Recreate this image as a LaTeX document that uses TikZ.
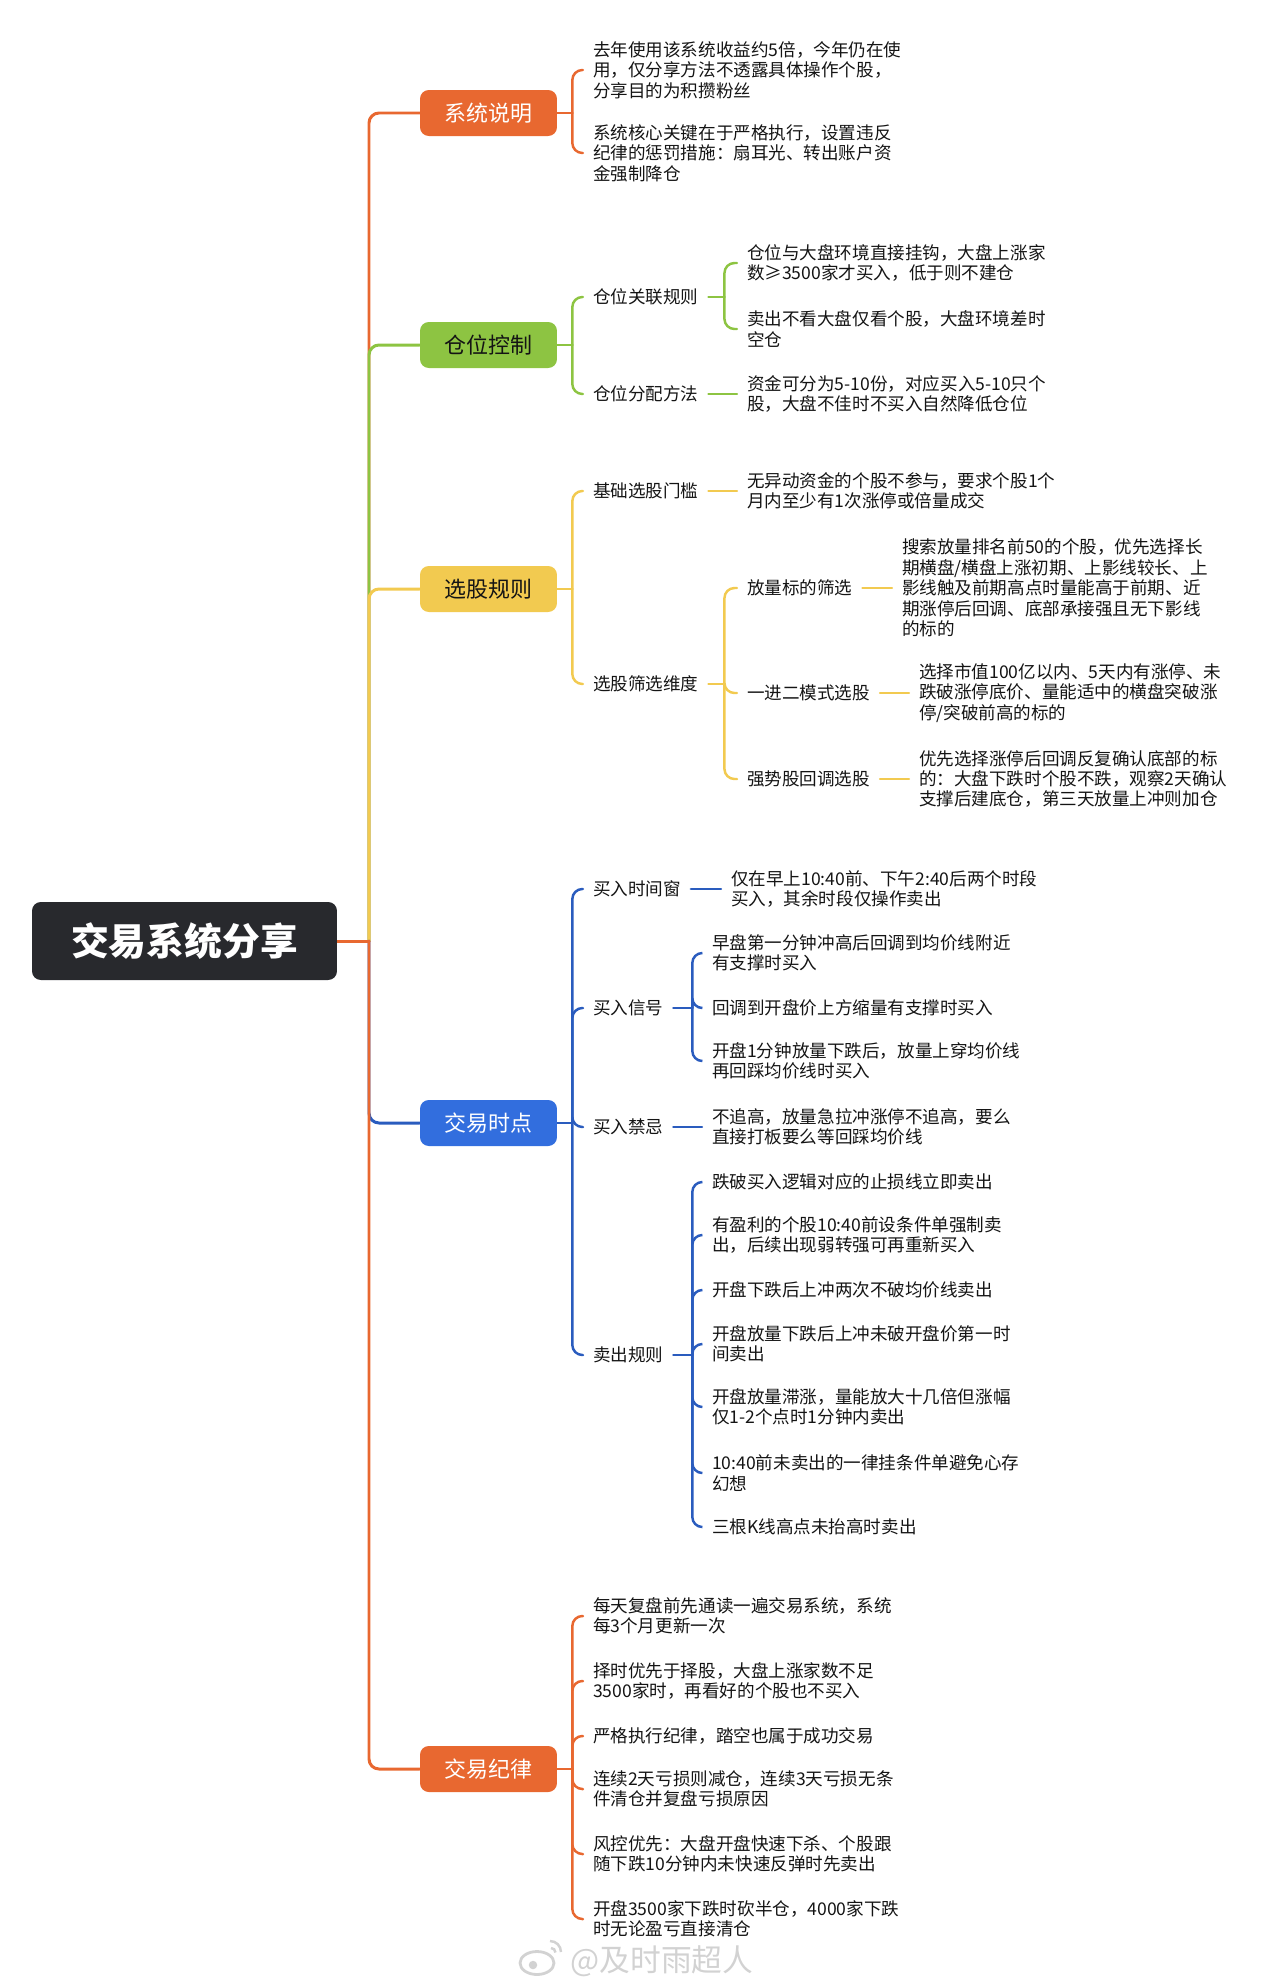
\documentclass[tikz,border=0pt]{standalone}
\usepackage{fontspec}
\setmainfont{Noto Sans CJK SC}
\usepackage{tikz}
\usetikzlibrary{positioning, calc, backgrounds}
\definecolor{rootdark}{RGB}{40,41,45}
\definecolor{orangecol}{RGB}{232,104,48}
\definecolor{greencol}{RGB}{141,196,66}
\definecolor{yellowcol}{RGB}{242,202,80}
\definecolor{bluecol}{RGB}{50,110,222}
\definecolor{bluelinecol}{RGB}{42,92,190}
\definecolor{textdark}{RGB}{20,20,20}
\tikzset{
  rootnode/.style={rectangle,rounded corners=5pt,fill=rootdark,text=white,minimum width=6.1cm,minimum height=1.56cm,inner sep=0pt,font=\fontsize{21.5}{24}\selectfont\bfseries},
  topicnode/.style={rectangle,rounded corners=5pt,minimum width=2.74cm,minimum height=0.92cm,inner sep=0pt,font=\fontsize{12.5}{14}\selectfont},
  labelnode/.style={inner sep=0pt,outer xsep=5.7pt,anchor=west,text=textdark,font=\fontsize{10}{11.6}\selectfont},
  leafnode/.style={labelnode,align=left},
  trunkline/.style={line width=1.7pt,rounded corners=0.2cm,line cap=round},
  brline/.style={line width=1.4pt,rounded corners=0.2cm,line cap=round}
}
\begin{document}
\begin{tikzpicture}[x=0.02cm,y=-0.02cm]
  \useasboundingbox (0,0) rectangle (1280,1982);

  %% Root
  \node[rootnode] (root) at (184.5,941) {交易系统分享};
  \coordinate (trunk) at (369,941);

  %% Main topics
  \node[topicnode,fill=orangecol,text=white] (xtsm) at (488.5,113) {系统说明};
  \node[topicnode,fill=greencol,text=textdark] (cwkz) at (488.5,345) {仓位控制};
  \node[topicnode,fill=yellowcol,text=textdark] (xggz) at (488.5,589) {选股规则};
  \node[topicnode,fill=bluecol,text=white] (jysd) at (488.5,1123) {交易时点};
  \node[topicnode,fill=orangecol,text=white] (jyjl) at (488.5,1769) {交易纪律};

  %% 系统说明
  \node[leafnode] (xtsm1) at (583,70) {去年使用该系统收益约5倍，今年仍在使\\用，仅分享方法不透露具体操作个股，\\分享目的为积攒粉丝};
  \node[leafnode] (xtsm2) at (583,153) {系统核心关键在于严格执行，设置违反\\纪律的惩罚措施：扇耳光、转出账户资\\金强制降仓};

  %% 仓位控制
  \node[labelnode] (glgz) at (583,297) {仓位关联规则};
  \node[labelnode] (fpff) at (583,394) {仓位分配方法};
  \node[leafnode] (glgz1) at (737,263) {仓位与大盘环境直接挂钩，大盘上涨家\\数≥3500家才买入，低于则不建仓};
  \node[leafnode] (glgz2) at (737,329) {卖出不看大盘仅看个股，大盘环境差时\\空仓};
  \node[leafnode] (fpff1) at (737,394) {资金可分为5-10份，对应买入5-10只个\\股，大盘不佳时不买入自然降低仓位};

  %% 选股规则
  \node[labelnode] (jcmk) at (583,491) {基础选股门槛};
  \node[labelnode] (sxwd) at (583,684) {选股筛选维度};
  \node[leafnode] (jcmk1) at (737,491) {无异动资金的个股不参与，要求个股1个\\月内至少有1次涨停或倍量成交};
  \node[labelnode] (flsx) at (737,588) {放量标的筛选};
  \node[labelnode] (yjem) at (737,693) {一进二模式选股};
  \node[labelnode] (qshd) at (737,779) {强势股回调选股};
  \node[leafnode] (flsx1) at (892,588) {搜索放量排名前50的个股，优先选择长\\期横盘/横盘上涨初期、上影线较长、上\\影线触及前期高点时量能高于前期、近\\期涨停后回调、底部承接强且无下影线\\的标的};
  \node[leafnode] (yjem1) at (909,693) {选择市值100亿以内、5天内有涨停、未\\跌破涨停底价、量能适中的横盘突破涨\\停/突破前高的标的};
  \node[leafnode] (qshd1) at (909,779) {优先选择涨停后回调反复确认底部的标\\的：大盘下跌时个股不跌，观察2天确认\\支撑后建底仓，第三天放量上冲则加仓};

  %% 交易时点
  \node[labelnode] (mrsj) at (583,889) {买入时间窗};
  \node[labelnode] (mrxh) at (583,1008) {买入信号};
  \node[labelnode] (mrjj) at (583,1127) {买入禁忌};
  \node[labelnode] (mcgz) at (583,1355) {卖出规则};
  \node[leafnode] (mrsj1) at (721,889) {仅在早上10:40前、下午2:40后两个时段\\买入，其余时段仅操作卖出};
  \node[leafnode] (mrxh1) at (702,953) {早盘第一分钟冲高后回调到均价线附近\\有支撑时买入};
  \node[leafnode] (mrxh2) at (702,1008) {回调到开盘价上方缩量有支撑时买入};
  \node[leafnode] (mrxh3) at (702,1061) {开盘1分钟放量下跌后，放量上穿均价线\\再回踩均价线时买入};
  \node[leafnode] (mrjj1) at (702,1127) {不追高，放量急拉冲涨停不追高，要么\\直接打板要么等回踩均价线};
  \foreach \i/\yy/\txt in {
    1/1182/{跌破买入逻辑对应的止损线立即卖出},
    2/1235/{有盈利的个股10:40前设条件单强制卖\\出，后续出现弱转强可再重新买入},
    3/1290/{开盘下跌后上冲两次不破均价线卖出},
    4/1344/{开盘放量下跌后上冲未破开盘价第一时\\间卖出},
    5/1407/{开盘放量滞涨，量能放大十几倍但涨幅\\仅1-2个点时1分钟内卖出},
    6/1473/{10:40前未卖出的一律挂条件单避免心存\\幻想},
    7/1527/{三根K线高点未抬高时卖出}} {
    \node[leafnode] (mcgz\i) at (702,\yy) {\txt};
  }

  %% 交易纪律
  \foreach \i/\yy/\txt in {
    1/1616/{每天复盘前先通读一遍交易系统，系统\\每3个月更新一次},
    2/1681/{择时优先于择股，大盘上涨家数不足\\3500家时，再看好的个股也不买入},
    3/1736/{严格执行纪律，踏空也属于成功交易},
    4/1789/{连续2天亏损则减仓，连续3天亏损无条\\件清仓并复盘亏损原因},
    5/1854/{风控优先：大盘开盘快速下杀、个股跟\\随下跌10分钟内未快速反弹时先卖出},
    6/1919/{开盘3500家下跌时砍半仓，4000家下跌\\时无论盈亏直接清仓}} {
    \node[leafnode] (jyjl\i) at (583,\yy) {\txt};
  }

  %% Watermark
  \node[font=\fontsize{17.5}{20}\selectfont,text=gray!35] (wm) at (662,1961) {@及时雨超人};
  \draw[gray!35,line width=1.6pt] (537,1963) ellipse (0.34cm and 0.23cm);
  \fill[gray!35] (533,1965) circle (0.085cm);
  \draw[gray!35,line width=1.4pt] (550,1941) arc (90:0:0.22cm);
  \draw[gray!35,line width=1.4pt] (551,1948) arc (90:0:0.09cm);

  \begin{scope}[on background layer]
    %% Trunk branches, later ones on top
    \draw[trunkline,orangecol] (trunk) |- (xtsm.west);
    \draw[trunkline,greencol] (trunk) |- (cwkz.west);
    \draw[trunkline,yellowcol] (trunk) |- (xggz.west);
    \draw[trunkline,bluelinecol] (trunk) |- (jysd.west);
    \draw[trunkline,orangecol] (trunk) |- (jyjl.west);
    \draw[trunkline,orangecol] (root.east) -- (trunk);

    %% 系统说明 bracket
    \coordinate (xtsmj) at ($(xtsm.east)+(15,0)$);
    \draw[brline,orangecol] (xtsm.east) -- (xtsmj);
    \foreach \c in {xtsm1,xtsm2} \draw[brline,orangecol] (xtsmj) |- (\c.west);

    %% 仓位控制 brackets
    \coordinate (cwkzj) at ($(cwkz.east)+(15,0)$);
    \draw[brline,greencol] (cwkz.east) -- (cwkzj);
    \foreach \c in {glgz,fpff} \draw[brline,greencol] (cwkzj) |- (\c.west);
    \coordinate (glgzj) at ($(glgz.east)+(16,0)$);
    \draw[brline,greencol] (glgz.east) -- (glgzj);
    \foreach \c in {glgz1,glgz2} \draw[brline,greencol] (glgzj) |- (\c.west);
    \draw[brline,greencol] (fpff.east) -- (fpff1.west);

    %% 选股规则 brackets
    \coordinate (xggzj) at ($(xggz.east)+(15,0)$);
    \draw[brline,yellowcol] (xggz.east) -- (xggzj);
    \foreach \c in {jcmk,sxwd} \draw[brline,yellowcol] (xggzj) |- (\c.west);
    \draw[brline,yellowcol] (jcmk.east) -- (jcmk1.west);
    \coordinate (sxwdj) at ($(sxwd.east)+(16,0)$);
    \draw[brline,yellowcol] (sxwd.east) -- (sxwdj);
    \foreach \c in {flsx,yjem,qshd} \draw[brline,yellowcol] (sxwdj) |- (\c.west);
    \draw[brline,yellowcol] (flsx.east) -- (flsx1.west);
    \draw[brline,yellowcol] (yjem.east) -- (yjem1.west);
    \draw[brline,yellowcol] (qshd.east) -- (qshd1.west);

    %% 交易时点 brackets
    \coordinate (jysdj) at ($(jysd.east)+(15,0)$);
    \draw[brline,bluelinecol] (jysd.east) -- (jysdj);
    \foreach \c in {mrsj,mrxh,mrjj,mcgz} \draw[brline,bluelinecol] (jysdj) |- (\c.west);
    \draw[brline,bluelinecol] (mrsj.east) -- (mrsj1.west);
    \coordinate (mrxhj) at ($(mrxh.east)+(19,0)$);
    \draw[brline,bluelinecol] (mrxh.east) -- (mrxhj);
    \foreach \c in {mrxh1,mrxh2,mrxh3} \draw[brline,bluelinecol] (mrxhj) |- (\c.west);
    \draw[brline,bluelinecol] (mrjj.east) -- (mrjj1.west);
    \coordinate (mcgzj) at ($(mcgz.east)+(19,0)$);
    \draw[brline,bluelinecol] (mcgz.east) -- (mcgzj);
    \foreach \i in {1,...,7} \draw[brline,bluelinecol] (mcgzj) |- (mcgz\i.west);

    %% 交易纪律 bracket
    \coordinate (jyjlj) at ($(jyjl.east)+(15,0)$);
    \draw[brline,orangecol] (jyjl.east) -- (jyjlj);
    \foreach \i in {1,...,6} \draw[brline,orangecol] (jyjlj) |- (jyjl\i.west);
  \end{scope}
\end{tikzpicture}
\end{document}
